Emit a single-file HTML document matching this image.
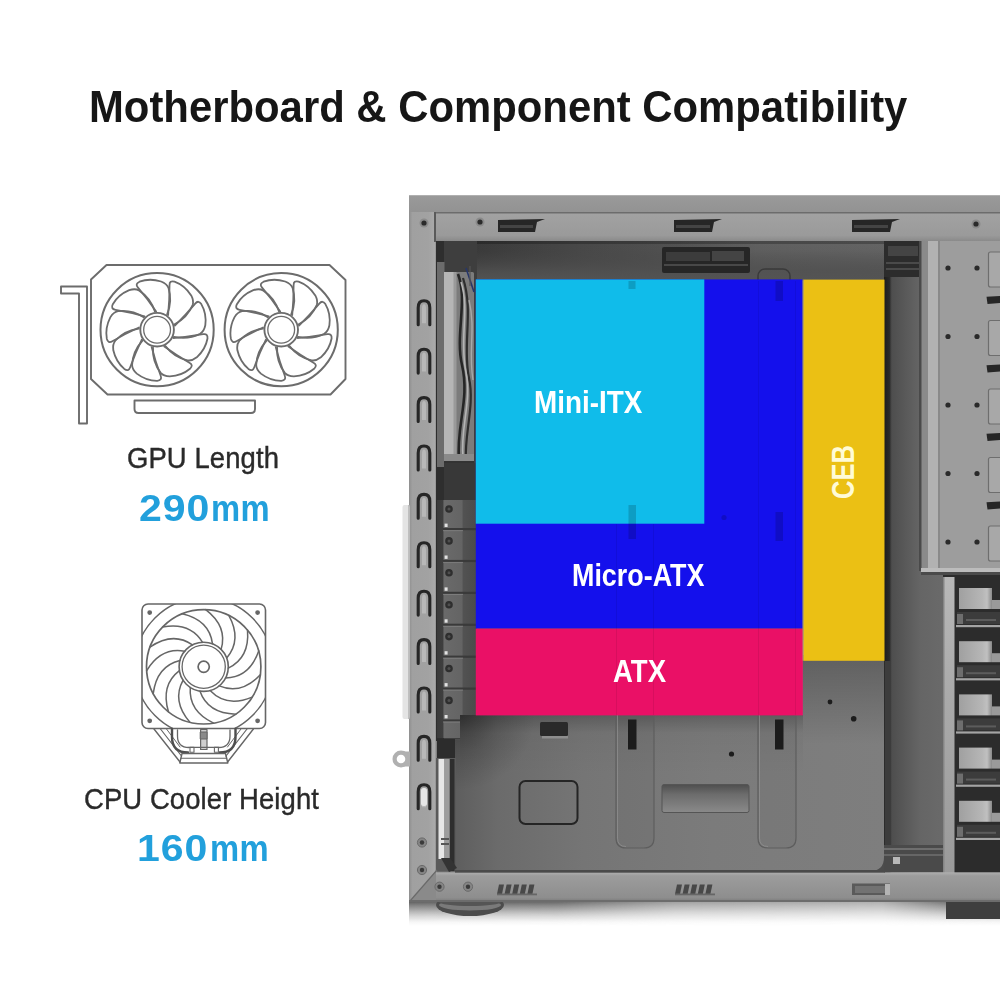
<!DOCTYPE html>
<html lang="en">
<head>
<meta charset="utf-8">
<title>Motherboard &amp; Component Compatibility</title>
<style>
html,body{margin:0;padding:0;background:#fff;}
body{width:1000px;height:1000px;position:relative;overflow:hidden;font-family:"Liberation Sans",sans-serif;}
.abs{position:absolute;}
.t{position:absolute;white-space:nowrap;line-height:1;transform-origin:0 0;}
#title{left:89px;top:83.5px;font-size:45px;font-weight:bold;color:#161616;transform:scaleX(0.93);}
.lbl{font-size:30px;color:#2a2a2a;letter-spacing:0.1px;-webkit-text-stroke:0.4px #2a2a2a;transform:scaleX(0.915);}
.val{font-size:36px;font-weight:bold;color:#22a0dc;}
.val .d{display:inline-block;transform:scaleX(1.14);transform-origin:0 50%;letter-spacing:0.8px;}
.val .u{position:absolute;left:72.6px;top:0;display:inline-block;transform:scaleX(0.91);transform-origin:0 50%;letter-spacing:0.5px;}
.blk{position:absolute;}
.btxt{position:absolute;white-space:nowrap;line-height:1;color:#fff;font-weight:bold;transform-origin:0 0;}
</style>
</head>
<body>

<div id="title" class="t">Motherboard &amp; Component Compatibility</div>

<!-- left column -->
<div id="gpuLbl" class="t lbl" style="left:126.6px;top:443px;">GPU Length</div>
<div id="gpuVal" class="t val" style="left:138.5px;top:490.8px;"><span class="d">290</span><span class="u">mm</span></div>
<div id="cpuLbl" class="t lbl" style="left:83.6px;top:784px;">CPU Cooler Height</div>
<div id="cpuVal" class="t val" style="left:137px;top:830.8px;"><span class="d">160</span><span class="u">mm</span></div>

<svg id="icons" class="abs" style="left:0;top:0" width="400" height="800" viewBox="0 0 400 800">
<g fill="none" stroke="#6c6c6c" stroke-width="1.9" stroke-linejoin="round" stroke-linecap="round">
<path d="M106.5 265 H329.5 L345.5 280 V379 L330.5 394.5 H107.5 L91 379 V279.5 Z"/>
<path d="M61 286.5 H87 V423.5 H79 V293.5 H61 Z"/>
<path d="M134.5 400.5 H255 V409 Q255 413 251 413 H138.5 Q134.5 413 134.5 409 Z"/>
<circle cx="157.1" cy="329.7" r="56.6" stroke-width="2"/>
<circle cx="157.1" cy="329.7" r="16.8"/><circle cx="157.1" cy="329.7" r="13.4" stroke-width="1.3"/>
<path d="M156.1 311.4 Q147.9 299.3 138.0 287.7 Q134.7 283.9 139.5 281.7 Q149.7 277.9 161.1 281.5 Q166.9 283.7 168.5 288.0 Q172.6 301.0 167.1 314.4" stroke-width="1.8"/>
<path d="M168.1 315.1 Q169.6 300.5 169.5 285.2 Q169.4 280.2 174.5 281.6 Q184.7 285.3 191.2 295.4 Q194.1 300.8 192.6 305.0 Q187.5 317.7 174.6 324.3" stroke-width="1.8"/>
<path d="M174.9 325.6 Q185.4 315.4 195.2 303.6 Q198.4 299.7 201.3 304.1 Q206.8 313.5 205.3 325.3 Q204.1 331.3 200.2 333.7 Q188.1 340.0 173.9 336.9" stroke-width="1.8"/>
<path d="M173.4 338.0 Q188.0 336.9 203.1 334.2 Q208.0 333.3 207.5 338.5 Q205.6 349.2 196.8 357.3 Q192.0 361.1 187.6 360.4 Q174.2 357.5 165.4 346.0" stroke-width="1.8"/>
<path d="M164.3 346.5 Q176.1 355.1 189.4 362.7 Q193.8 365.1 190.0 368.8 Q181.7 375.8 169.8 376.4 Q163.6 376.2 160.7 372.8 Q152.3 362.0 153.0 347.5" stroke-width="1.8"/>
<path d="M151.7 347.2 Q155.3 361.4 160.7 375.7 Q162.4 380.4 157.2 380.8 Q146.3 380.9 136.8 373.6 Q132.2 369.6 132.1 365.0 Q132.7 351.4 142.5 340.7" stroke-width="1.8"/>
<path d="M141.8 339.7 Q135.4 352.8 130.2 367.3 Q128.6 372.0 124.3 368.9 Q116.0 362.0 113.3 350.3 Q112.4 344.2 115.3 340.7 Q124.5 330.6 138.8 328.7" stroke-width="1.8"/>
<path d="M138.9 327.5 Q125.6 333.5 112.4 341.2 Q108.1 343.8 106.8 338.7 Q104.9 328.0 110.3 317.4 Q113.5 312.1 118.0 311.2 Q131.5 309.4 143.7 317.2" stroke-width="1.8"/>
<path d="M144.6 316.3 Q130.6 312.3 115.5 309.8 Q110.5 309.0 112.8 304.2 Q118.2 294.8 129.2 290.2 Q135.0 288.2 139.0 290.4 Q150.5 297.7 154.9 311.5" stroke-width="1.8"/>
<circle cx="281.2" cy="329.7" r="56.6" stroke-width="2"/>
<circle cx="281.2" cy="329.7" r="16.8"/><circle cx="281.2" cy="329.7" r="13.4" stroke-width="1.3"/>
<path d="M280.2 311.4 Q272.0 299.3 262.1 287.7 Q258.8 283.9 263.6 281.7 Q273.8 277.9 285.2 281.5 Q291.0 283.7 292.6 288.0 Q296.7 301.0 291.2 314.4" stroke-width="1.8"/>
<path d="M292.2 315.1 Q293.7 300.5 293.6 285.2 Q293.5 280.2 298.6 281.6 Q308.8 285.3 315.3 295.4 Q318.2 300.8 316.7 305.0 Q311.6 317.7 298.7 324.3" stroke-width="1.8"/>
<path d="M299.0 325.6 Q309.5 315.4 319.3 303.6 Q322.5 299.7 325.4 304.1 Q330.9 313.5 329.4 325.3 Q328.2 331.3 324.3 333.7 Q312.2 340.0 298.0 336.9" stroke-width="1.8"/>
<path d="M297.5 338.0 Q312.1 336.9 327.2 334.2 Q332.1 333.3 331.6 338.5 Q329.7 349.2 320.9 357.3 Q316.1 361.1 311.7 360.4 Q298.3 357.5 289.5 346.0" stroke-width="1.8"/>
<path d="M288.4 346.5 Q300.2 355.1 313.5 362.7 Q317.9 365.1 314.1 368.8 Q305.8 375.8 293.9 376.4 Q287.7 376.2 284.8 372.8 Q276.4 362.0 277.1 347.5" stroke-width="1.8"/>
<path d="M275.8 347.2 Q279.4 361.4 284.8 375.7 Q286.5 380.4 281.3 380.8 Q270.4 380.9 260.9 373.6 Q256.3 369.6 256.2 365.0 Q256.8 351.4 266.6 340.7" stroke-width="1.8"/>
<path d="M265.9 339.7 Q259.5 352.8 254.3 367.3 Q252.7 372.0 248.4 368.9 Q240.1 362.0 237.4 350.3 Q236.5 344.2 239.4 340.7 Q248.6 330.6 262.9 328.7" stroke-width="1.8"/>
<path d="M263.0 327.5 Q249.7 333.5 236.5 341.2 Q232.2 343.8 230.9 338.7 Q229.0 328.0 234.4 317.4 Q237.6 312.1 242.1 311.2 Q255.6 309.4 267.8 317.2" stroke-width="1.8"/>
<path d="M268.7 316.3 Q254.7 312.3 239.6 309.8 Q234.6 309.0 236.9 304.2 Q242.3 294.8 253.3 290.2 Q259.1 288.2 263.1 290.4 Q274.6 297.7 279.0 311.5" stroke-width="1.8"/>
</g>
<g fill="none" stroke="#666" stroke-width="1.6" stroke-linejoin="round" stroke-linecap="round">
<rect x="142" y="604" width="123.5" height="124.5" rx="6"/>
<clipPath id="cpuClip"><rect x="142" y="604" width="123.5" height="124.5" rx="6"/></clipPath>
<circle cx="203.7" cy="666.8" r="69" clip-path="url(#cpuClip)" stroke-width="1.5"/>
<circle cx="203.7" cy="666.8" r="57.2" stroke-width="1.7"/>
<circle cx="203.7" cy="666.8" r="24.6" stroke-width="1.6"/><circle cx="203.7" cy="666.8" r="21.6" stroke-width="1.3"/><circle cx="203.7" cy="666.8" r="5.6" stroke-width="1.7"/>
<path d="M212.5 643.8 Q209.4 620.2 182.3 613.8" stroke-width="1.5"/>
<path d="M221.1 649.4 Q227.9 626.5 205.7 609.6" stroke-width="1.5"/>
<path d="M226.7 658.0 Q242.2 639.8 228.8 615.4" stroke-width="1.5"/>
<path d="M228.3 668.1 Q249.8 657.8 247.5 630.0" stroke-width="1.5"/>
<path d="M225.6 678.0 Q249.5 677.4 258.7 651.0" stroke-width="1.5"/>
<path d="M219.2 685.9 Q241.2 695.1 260.3 674.8" stroke-width="1.5"/>
<path d="M210.1 690.6 Q226.5 707.9 252.2 697.1" stroke-width="1.5"/>
<path d="M199.9 691.1 Q207.8 713.6 235.7 714.2" stroke-width="1.5"/>
<path d="M190.3 687.4 Q188.4 711.2 213.6 723.1" stroke-width="1.5"/>
<path d="M183.1 680.2 Q171.6 701.2 189.9 722.3" stroke-width="1.5"/>
<path d="M179.4 670.6 Q160.4 685.2 168.5 711.9" stroke-width="1.5"/>
<path d="M179.9 660.4 Q156.7 666.0 153.2 693.7" stroke-width="1.5"/>
<path d="M184.6 651.3 Q161.1 646.9 146.6 670.8" stroke-width="1.5"/>
<path d="M192.5 644.9 Q172.9 631.3 149.9 647.2" stroke-width="1.5"/>
<path d="M202.4 642.2 Q190.0 621.9 162.6 627.1" stroke-width="1.5"/>
<circle cx="149.7" cy="612.6" r="1.6" fill="#666"/>
<circle cx="257.6" cy="612.6" r="1.6" fill="#666"/>
<circle cx="149.7" cy="720.8" r="1.6" fill="#666"/>
<circle cx="257.6" cy="720.8" r="1.6" fill="#666"/>
<path d="M154 729 L180 762" stroke-width="1.4"/><path d="M253.4 729 L227.6 762" stroke-width="1.4"/>
<path d="M160.5 729 L181.5 756" stroke-width="1.2"/><path d="M247 729 L226 756" stroke-width="1.2"/>
<path d="M166.5 729 L180 747" stroke-width="1"/><path d="M241 729 L227.5 747" stroke-width="1"/>
<path d="M172 729 V737 Q172 752.5 188 752.5" stroke-width="2.4" stroke="#4e4e4e"/><path d="M177.5 730 V736 Q177.5 747.5 189 747.5" stroke-width="1.3"/>
<path d="M235.5 729 V737 Q235.5 752.5 219.5 752.5" stroke-width="2.4" stroke="#4e4e4e"/><path d="M230 730 V736 Q230 747.5 218.5 747.5" stroke-width="1.3"/>
<path d="M182 753.5 H225.5 L227.8 763 H179.8 Z" stroke-width="1.4"/><path d="M181 758.3 H226.6" stroke-width="1.1"/>
<rect x="200.6" y="729.5" width="6.4" height="20" stroke-width="1.2" fill="#cfcfcf"/><rect x="200.6" y="732" width="6.4" height="7" stroke-width="1" fill="#8a8a8a"/>
<path d="M189 747.3 H218.4" stroke-width="1.3"/><rect x="190" y="747.3" width="4" height="5" stroke-width="1.1"/><rect x="214.4" y="747.3" width="4" height="5" stroke-width="1.1"/>
</g>
</svg>

<!-- CASE -->
<svg id="case" class="abs" style="left:0;top:0" width="1000" height="1000" viewBox="0 0 1000 1000">
<defs>
<linearGradient id="gTop" x1="0" y1="0" x2="0" y2="1"><stop offset="0" stop-color="#9a9a9a"/><stop offset="1" stop-color="#929292"/></linearGradient>
<linearGradient id="gRail" x1="0" y1="0" x2="0" y2="1"><stop offset="0" stop-color="#a2a2a2"/><stop offset="0.8" stop-color="#9a9a9a"/><stop offset="1" stop-color="#8a8a8a"/></linearGradient>
<linearGradient id="gPillar" x1="0" y1="0" x2="1" y2="0"><stop offset="0" stop-color="#8e8e8e"/><stop offset="0.12" stop-color="#a0a0a0"/><stop offset="0.7" stop-color="#a2a2a2"/><stop offset="0.92" stop-color="#aaaaaa"/><stop offset="1" stop-color="#808080"/></linearGradient>
<linearGradient id="gInTop" x1="0" y1="0" x2="1" y2="0"><stop offset="0" stop-color="#2e2e2e"/><stop offset="0.09" stop-color="#3a3a3a"/><stop offset="0.3" stop-color="#484848"/><stop offset="0.5" stop-color="#525252"/><stop offset="0.66" stop-color="#606060"/><stop offset="1" stop-color="#666666"/></linearGradient>
<linearGradient id="gInTopV" x1="0" y1="0" x2="0" y2="1"><stop offset="0" stop-color="#464646" stop-opacity="0"/><stop offset="0.25" stop-color="#464646" stop-opacity="0.1"/><stop offset="0.75" stop-color="#505050" stop-opacity="0.85"/><stop offset="1" stop-color="#545454" stop-opacity="1"/></linearGradient>
<linearGradient id="gTray" x1="0" y1="0" x2="1" y2="0"><stop offset="0" stop-color="#5e5e5e"/><stop offset="0.1" stop-color="#6b6b6b"/><stop offset="0.3" stop-color="#757575"/><stop offset="0.6" stop-color="#7b7b7b"/><stop offset="1" stop-color="#7e7e7e"/></linearGradient>
<linearGradient id="gTrayV" x1="0" y1="0" x2="0" y2="1"><stop offset="0" stop-color="#000" stop-opacity="0.22"/><stop offset="0.3" stop-color="#000" stop-opacity="0.04"/><stop offset="1" stop-color="#000" stop-opacity="0"/></linearGradient>
<linearGradient id="gRStrip" x1="0" y1="0" x2="1" y2="0"><stop offset="0" stop-color="#1c1c1c"/><stop offset="0.09" stop-color="#2a2a2a"/><stop offset="0.13" stop-color="#4e4e4e"/><stop offset="0.6" stop-color="#656565"/><stop offset="1" stop-color="#6a6a6a"/></linearGradient>
<linearGradient id="gBot" x1="0" y1="0" x2="0" y2="1"><stop offset="0" stop-color="#b0b0b0"/><stop offset="0.12" stop-color="#9c9c9c"/><stop offset="0.85" stop-color="#8e8e8e"/><stop offset="1" stop-color="#7a7a7a"/></linearGradient>
<linearGradient id="gShadow" x1="0" y1="0" x2="0" y2="1"><stop offset="0" stop-color="#3c3c3c" stop-opacity="0.9"/><stop offset="0.35" stop-color="#666" stop-opacity="0.6"/><stop offset="0.7" stop-color="#999" stop-opacity="0.25"/><stop offset="1" stop-color="#fff" stop-opacity="0"/></linearGradient>
<linearGradient id="gShH" x1="0" y1="0" x2="1" y2="0"><stop offset="0" stop-color="#fff" stop-opacity="1"/><stop offset="0.25" stop-color="#fff" stop-opacity="0.95"/><stop offset="0.45" stop-color="#fff" stop-opacity="0.6"/><stop offset="0.8" stop-color="#fff" stop-opacity="0.5"/><stop offset="0.92" stop-color="#fff" stop-opacity="0.9"/><stop offset="1" stop-color="#fff" stop-opacity="1"/></linearGradient>
<mask id="mSh" maskUnits="userSpaceOnUse" x="400" y="895" width="600" height="40"><rect x="409" y="895" width="591" height="40" fill="url(#gShH)"/></mask>
<linearGradient id="gCut" x1="0" y1="0" x2="0" y2="1"><stop offset="0" stop-color="#4e4e4e"/><stop offset="0.35" stop-color="#6c6c6c"/><stop offset="1" stop-color="#8a8a8a"/></linearGradient>
<linearGradient id="gFanL" x1="0" y1="0" x2="1" y2="0"><stop offset="0" stop-color="#9a9a9a"/><stop offset="0.4" stop-color="#b4b4b4"/><stop offset="0.55" stop-color="#8a8a8a"/><stop offset="1" stop-color="#5a5a5a"/></linearGradient>
<linearGradient id="gTrayLight" x1="0" y1="0" x2="1" y2="0"><stop offset="0" stop-color="#a0a0a0"/><stop offset="0.7" stop-color="#b6b6b6"/><stop offset="0.85" stop-color="#c0c0c0"/><stop offset="1" stop-color="#8a8a8a"/></linearGradient>
<linearGradient id="gPci" x1="0" y1="0" x2="1" y2="0"><stop offset="0" stop-color="#3a3a3a"/><stop offset="0.14" stop-color="#3e3e3e"/><stop offset="0.18" stop-color="#6a6a6a"/><stop offset="0.62" stop-color="#646464"/><stop offset="0.66" stop-color="#525252"/><stop offset="1" stop-color="#4a4a4a"/></linearGradient>
</defs>
<rect x="409" y="900" width="591" height="27" fill="url(#gShadow)" mask="url(#mSh)"/>
<ellipse cx="470" cy="905" rx="34" ry="11" fill="#4c4c4c"/>
<ellipse cx="470" cy="905" rx="31" ry="5.5" fill="#7a7a7a"/>
<ellipse cx="470" cy="902" rx="31" ry="4" fill="#555"/>
<rect x="946" y="901" width="54" height="18" fill="#3e3e3e"/>
<rect x="409" y="195" width="591" height="707" fill="#6a6a6a"/>
<rect x="409" y="195" width="591" height="18" fill="url(#gTop)"/>
<rect x="409" y="195" width="591" height="1" fill="#b0b0b0"/>
<rect x="409" y="212" width="27.8" height="690" fill="url(#gPillar)"/>
<rect x="436" y="213" width="564" height="28" fill="url(#gRail)"/>
<rect x="434" y="212" width="566" height="1.5" fill="#6c6c6c"/>
<rect x="434" y="212" width="2" height="30" fill="#5a5a5a"/>
<path d="M498 220 L545 219 L537 222 L535 232 L498 232 Z" fill="#262626"/>
<rect x="500" y="225" width="33" height="3" fill="#444"/>
<path d="M674 220 L722 219 L714 222 L712 232 L674 232 Z" fill="#262626"/>
<rect x="676" y="225" width="34" height="3" fill="#444"/>
<path d="M852 220 L900 219 L892 222 L890 232 L852 232 Z" fill="#262626"/>
<rect x="854" y="225" width="34" height="3" fill="#444"/>
<circle cx="424" cy="223" r="4.5" fill="#8a8a8a"/><circle cx="424" cy="223" r="2.6" fill="#2a2a2a"/>
<circle cx="480" cy="222" r="4.5" fill="#8a8a8a"/><circle cx="480" cy="222" r="2.6" fill="#2a2a2a"/>
<circle cx="976" cy="224" r="4.5" fill="#8a8a8a"/><circle cx="976" cy="224" r="2.6" fill="#2a2a2a"/>
<rect x="436" y="241" width="486" height="40" fill="url(#gInTop)"/>
<rect x="436" y="241" width="486" height="40" fill="url(#gInTopV)"/>
<rect x="436" y="241" width="486" height="3" fill="#000" opacity="0.25"/>
<rect x="662" y="247" width="88" height="26" rx="2" fill="#262626"/>
<rect x="666" y="252" width="44" height="9" fill="#3c3c3c"/><rect x="712" y="251" width="32" height="10" fill="#444"/><rect x="664" y="264" width="84" height="2" fill="#484848"/>
<rect x="758" y="269" width="32" height="22" rx="7" fill="none" stroke="#3a3a3a" stroke-width="1.5"/>
<rect x="436" y="241" width="41" height="500" fill="#3e3e3e"/>
<rect x="436" y="241" width="8" height="500" fill="#2e2e2e"/>
<rect x="437" y="262" width="7.5" height="205" fill="#6c6c6c"/>
<rect x="444" y="272" width="30" height="190" rx="1.5" fill="#7c7c7c"/>
<rect x="444" y="272" width="12" height="190" fill="#b6b6b6"/><rect x="453.5" y="272" width="3" height="190" fill="#9a9a9a"/>
<path d="M458 274 C468 300 455 335 462 365 C470 400 456 425 459 460" fill="none" stroke="#262626" stroke-width="2.6"/>
<path d="M463 278 C474 312 462 345 469 378 C475 405 464 435 466 460" fill="none" stroke="#2e2e2e" stroke-width="2.2"/>
<path d="M461 282 C470 310 459 340 466 372 C472 402 460 428 463 458" fill="none" stroke="#b4b4b4" stroke-width="1.6"/>
<path d="M469 300 C476 330 468 350 473 380" fill="none" stroke="#a8a8a8" stroke-width="1.4"/>
<path d="M466 268 L474 292" stroke="#26366a" stroke-width="1.6"/><path d="M470 266 L470 286" stroke="#555" stroke-width="1.2"/>
<rect x="444" y="454" width="30" height="8" fill="#8a8a8a"/><rect x="444" y="461" width="30" height="2" fill="#333"/>
<rect x="444" y="463" width="32" height="38" fill="#383838"/>
<rect x="437" y="500" width="40" height="238" fill="url(#gPci)"/>
<rect x="443" y="528.0" width="34" height="2.2" fill="#3a3a3a"/>
<rect x="443" y="530.0" width="20" height="1.2" fill="#8a8a8a" opacity="0.6"/>
<circle cx="449" cy="509.0" r="3.8" fill="#2e2e2e"/><circle cx="449" cy="509.0" r="1.5" fill="#4e4e4e"/>
<rect x="444.6" y="523.6" width="3" height="3.4" fill="#e2e2e2"/>
<rect x="443" y="559.9" width="34" height="2.2" fill="#3a3a3a"/>
<rect x="443" y="561.9" width="20" height="1.2" fill="#8a8a8a" opacity="0.6"/>
<circle cx="449" cy="540.9" r="3.8" fill="#2e2e2e"/><circle cx="449" cy="540.9" r="1.5" fill="#4e4e4e"/>
<rect x="444.6" y="555.5" width="3" height="3.4" fill="#e2e2e2"/>
<rect x="443" y="591.8" width="34" height="2.2" fill="#3a3a3a"/>
<rect x="443" y="593.8" width="20" height="1.2" fill="#8a8a8a" opacity="0.6"/>
<circle cx="449" cy="572.8" r="3.8" fill="#2e2e2e"/><circle cx="449" cy="572.8" r="1.5" fill="#4e4e4e"/>
<rect x="444.6" y="587.4" width="3" height="3.4" fill="#e2e2e2"/>
<rect x="443" y="623.7" width="34" height="2.2" fill="#3a3a3a"/>
<rect x="443" y="625.7" width="20" height="1.2" fill="#8a8a8a" opacity="0.6"/>
<circle cx="449" cy="604.7" r="3.8" fill="#2e2e2e"/><circle cx="449" cy="604.7" r="1.5" fill="#4e4e4e"/>
<rect x="444.6" y="619.3" width="3" height="3.4" fill="#e2e2e2"/>
<rect x="443" y="655.6" width="34" height="2.2" fill="#3a3a3a"/>
<rect x="443" y="657.6" width="20" height="1.2" fill="#8a8a8a" opacity="0.6"/>
<circle cx="449" cy="636.6" r="3.8" fill="#2e2e2e"/><circle cx="449" cy="636.6" r="1.5" fill="#4e4e4e"/>
<rect x="444.6" y="651.2" width="3" height="3.4" fill="#e2e2e2"/>
<rect x="443" y="687.5" width="34" height="2.2" fill="#3a3a3a"/>
<rect x="443" y="689.5" width="20" height="1.2" fill="#8a8a8a" opacity="0.6"/>
<circle cx="449" cy="668.5" r="3.8" fill="#2e2e2e"/><circle cx="449" cy="668.5" r="1.5" fill="#4e4e4e"/>
<rect x="444.6" y="683.1" width="3" height="3.4" fill="#e2e2e2"/>
<rect x="443" y="719.4" width="34" height="2.2" fill="#3a3a3a"/>
<rect x="443" y="721.4" width="20" height="1.2" fill="#8a8a8a" opacity="0.6"/>
<circle cx="449" cy="700.4" r="3.8" fill="#2e2e2e"/><circle cx="449" cy="700.4" r="1.5" fill="#4e4e4e"/>
<rect x="444.6" y="715.0" width="3" height="3.4" fill="#e2e2e2"/>
<rect x="437" y="739" width="19" height="20" fill="#2c2c2c"/>
<rect x="455" y="739" width="429" height="132" fill="#4c4c4c"/>
<path d="M460 715 H800 V640 H884 V857 Q884 871 870 871 H455 V740 H460 Z" fill="url(#gTray)"/>
<rect x="460" y="715" width="343" height="60" fill="url(#gTrayV)"/>
<radialGradient id="gTrayL" gradientUnits="userSpaceOnUse" cx="460" cy="715" r="75"><stop offset="0" stop-color="#000" stop-opacity="0.38"/><stop offset="0.5" stop-color="#000" stop-opacity="0.15"/><stop offset="1" stop-color="#000" stop-opacity="0"/></radialGradient>
<path d="M460 715 H540 V800 H455 V740 H460 Z" fill="url(#gTrayL)"/>
<linearGradient id="gBY" x1="0" y1="0" x2="0" y2="1"><stop offset="0" stop-color="#000" stop-opacity="0.24"/><stop offset="1" stop-color="#000" stop-opacity="0"/></linearGradient>
<rect x="803" y="655" width="81" height="90" fill="url(#gBY)"/>
<rect x="436" y="758" width="20" height="113" fill="#5a5a5a"/>
<rect x="438.5" y="759" width="6" height="100" fill="#e6e6e6"/><rect x="444.5" y="759" width="5" height="100" fill="#9c9c9c"/>
<rect x="450" y="759" width="4.5" height="112" fill="#2e2e2e"/>
<rect x="441" y="838" width="8" height="2" fill="#555"/><rect x="441" y="843" width="8" height="2" fill="#555"/>
<path d="M441 858 L450 858 L457 868 L449 872 Z" fill="#333"/>
<rect x="540" y="722" width="28" height="14" rx="1.5" fill="#2a2a2a"/><rect x="542" y="736" width="26" height="2.5" fill="#8e8e8e"/>
<rect x="519.5" y="781" width="58" height="43" rx="6" fill="none" stroke="#252525" stroke-width="2"/>
<path d="M616 715 V838 Q616 848 626 848 H644 Q654 848 654 838 V715" fill="#000" fill-opacity="0.03" stroke="#5e5e5e" stroke-width="1.2"/>
<path d="M617.5 715 V838 Q617.5 846.5 626 846.5" fill="none" stroke="#9a9a9a" stroke-width="0.8" opacity="0.7"/>
<path d="M758 715 V838 Q758 848 768 848 H786 Q796 848 796 838 V715" fill="#000" fill-opacity="0.03" stroke="#5e5e5e" stroke-width="1.2"/>
<path d="M759.5 715 V838 Q759.5 846.5 768 846.5" fill="none" stroke="#9a9a9a" stroke-width="0.8" opacity="0.7"/>
<rect x="628" y="719.5" width="8.5" height="30" fill="#1c1c1c"/>
<rect x="775" y="719.5" width="8.5" height="30" fill="#1c1c1c"/>
<rect x="662" y="784.5" width="87" height="28" rx="2" fill="url(#gCut)"/>
<rect x="662" y="784.5" width="87" height="28" rx="2" fill="none" stroke="#555" stroke-width="1"/>
<circle cx="731.5" cy="754" r="2.6" fill="#1c1c1c"/>
<circle cx="830" cy="702" r="2.4" fill="#1c1c1c"/>
<circle cx="853.7" cy="718.7" r="2.8" fill="#1c1c1c"/>
<rect x="884" y="241" width="60" height="632" fill="url(#gRStrip)"/>
<rect x="884" y="241" width="38" height="36" fill="#2c2c2c"/>
<rect x="888" y="246" width="30" height="10" fill="#444"/><rect x="886" y="262" width="34" height="2" fill="#4a4a4a"/><rect x="886" y="268" width="34" height="2" fill="#4a4a4a"/>
<rect x="884.5" y="661" width="6.5" height="184" fill="#3c3c3c"/>
<rect x="884" y="845" width="60" height="27" fill="#4a4a4a"/>
<rect x="884" y="848" width="60" height="2" fill="#6e6e6e"/><rect x="884" y="854" width="60" height="2" fill="#666"/>
<rect x="893" y="857" width="7" height="7" fill="#b8b8b8"/>
<rect x="919" y="241" width="3" height="330" fill="#4a4a4a"/>
<rect x="921.5" y="241" width="7" height="332" fill="#8a8a8a"/>
<rect x="928" y="241" width="10" height="332" fill="#b2b2b2"/>
<rect x="938" y="241" width="62" height="330" fill="#9d9d9d"/>
<rect x="938" y="241" width="2" height="330" fill="#8a8a8a"/>
<rect x="921" y="568" width="79" height="4" fill="#bcbcbc"/><rect x="921" y="572" width="79" height="3" fill="#4a4a4a"/>
<circle cx="948" cy="268.0" r="2.6" fill="#2a2a2a"/><circle cx="977" cy="268.0" r="2.6" fill="#2a2a2a"/>
<rect x="988.5" y="252.0" width="14" height="35" rx="2" fill="#a8a8a8" stroke="#6e6e6e" stroke-width="1.2"/>
<path d="M986.5 296.8 L1000 296.0 V303.0 L987.5 304.0 Z" fill="#262626"/>
<circle cx="948" cy="336.5" r="2.6" fill="#2a2a2a"/><circle cx="977" cy="336.5" r="2.6" fill="#2a2a2a"/>
<rect x="988.5" y="320.5" width="14" height="35" rx="2" fill="#a8a8a8" stroke="#6e6e6e" stroke-width="1.2"/>
<path d="M986.5 365.3 L1000 364.5 V371.5 L987.5 372.5 Z" fill="#262626"/>
<circle cx="948" cy="405.0" r="2.6" fill="#2a2a2a"/><circle cx="977" cy="405.0" r="2.6" fill="#2a2a2a"/>
<rect x="988.5" y="389.0" width="14" height="35" rx="2" fill="#a8a8a8" stroke="#6e6e6e" stroke-width="1.2"/>
<path d="M986.5 433.8 L1000 433.0 V440.0 L987.5 441.0 Z" fill="#262626"/>
<circle cx="948" cy="473.5" r="2.6" fill="#2a2a2a"/><circle cx="977" cy="473.5" r="2.6" fill="#2a2a2a"/>
<rect x="988.5" y="457.5" width="14" height="35" rx="2" fill="#a8a8a8" stroke="#6e6e6e" stroke-width="1.2"/>
<path d="M986.5 502.3 L1000 501.5 V508.5 L987.5 509.5 Z" fill="#262626"/>
<circle cx="948" cy="542.0" r="2.6" fill="#2a2a2a"/><circle cx="977" cy="542.0" r="2.6" fill="#2a2a2a"/>
<rect x="988.5" y="526.0" width="14" height="35" rx="2" fill="#a8a8a8" stroke="#6e6e6e" stroke-width="1.2"/>
<rect x="943" y="575" width="57" height="298" fill="#2c2c2c"/>
<linearGradient id="gBar" x1="0" y1="0" x2="0" y2="1"><stop offset="0" stop-color="#b8b8b8"/><stop offset="0.4" stop-color="#aaaaaa"/><stop offset="1" stop-color="#9a9a9a"/></linearGradient>
<rect x="943" y="577" width="11.5" height="296" fill="url(#gBar)"/><rect x="943" y="577" width="1.5" height="296" fill="#858585"/>
<rect x="959" y="588.0" width="33" height="21" fill="url(#gTrayLight)"/>
<rect x="992" y="600.0" width="8" height="9" fill="#9a9a9a"/>
<rect x="957" y="612.0" width="43" height="12" fill="#3c3c3c"/>
<rect x="957" y="614.0" width="6" height="10" fill="#6e6e6e"/>
<rect x="966" y="619.0" width="30" height="2" fill="#5c5c5c"/>
<rect x="956" y="625.0" width="44" height="2.2" fill="#a4a4a4"/>
<rect x="959" y="641.2" width="33" height="21" fill="url(#gTrayLight)"/>
<rect x="992" y="653.2" width="8" height="9" fill="#9a9a9a"/>
<rect x="957" y="665.2" width="43" height="12" fill="#3c3c3c"/>
<rect x="957" y="667.2" width="6" height="10" fill="#6e6e6e"/>
<rect x="966" y="672.2" width="30" height="2" fill="#5c5c5c"/>
<rect x="956" y="678.2" width="44" height="2.2" fill="#a4a4a4"/>
<rect x="959" y="694.4" width="33" height="21" fill="url(#gTrayLight)"/>
<rect x="992" y="706.4" width="8" height="9" fill="#9a9a9a"/>
<rect x="957" y="718.4" width="43" height="12" fill="#3c3c3c"/>
<rect x="957" y="720.4" width="6" height="10" fill="#6e6e6e"/>
<rect x="966" y="725.4" width="30" height="2" fill="#5c5c5c"/>
<rect x="956" y="731.4" width="44" height="2.2" fill="#a4a4a4"/>
<rect x="959" y="747.6" width="33" height="21" fill="url(#gTrayLight)"/>
<rect x="992" y="759.6" width="8" height="9" fill="#9a9a9a"/>
<rect x="957" y="771.6" width="43" height="12" fill="#3c3c3c"/>
<rect x="957" y="773.6" width="6" height="10" fill="#6e6e6e"/>
<rect x="966" y="778.6" width="30" height="2" fill="#5c5c5c"/>
<rect x="956" y="784.6" width="44" height="2.2" fill="#a4a4a4"/>
<rect x="959" y="800.8" width="33" height="21" fill="url(#gTrayLight)"/>
<rect x="992" y="812.8" width="8" height="9" fill="#9a9a9a"/>
<rect x="957" y="824.8" width="43" height="12" fill="#3c3c3c"/>
<rect x="957" y="826.8" width="6" height="10" fill="#6e6e6e"/>
<rect x="966" y="831.8" width="30" height="2" fill="#5c5c5c"/>
<rect x="956" y="837.8" width="44" height="2.2" fill="#a4a4a4"/>
<rect x="436" y="872.3" width="564" height="29.7" fill="url(#gBot)"/>
<rect x="455" y="870" width="430" height="2.6" fill="#4a4a4a"/>
<path d="M409 902 L436 871 L436 902 Z" fill="#8a8a8a"/><path d="M410 901 L437 870" stroke="#6a6a6a" stroke-width="1.2"/>
<rect x="409" y="900" width="591" height="2" fill="#6c6c6c"/>
<circle cx="422" cy="842.5" r="4.6" fill="#858585" stroke="#6a6a6a" stroke-width="1"/><circle cx="422" cy="842.5" r="2.2" fill="#3a3a3a"/>
<circle cx="422" cy="870" r="4.6" fill="#858585" stroke="#6a6a6a" stroke-width="1"/><circle cx="422" cy="870" r="2.2" fill="#3a3a3a"/>
<circle cx="439.5" cy="886.7" r="4.6" fill="#858585" stroke="#6a6a6a" stroke-width="1"/><circle cx="439.5" cy="886.7" r="2.2" fill="#3a3a3a"/>
<circle cx="468" cy="886.7" r="4.6" fill="#858585" stroke="#6a6a6a" stroke-width="1"/><circle cx="468" cy="886.7" r="2.2" fill="#3a3a3a"/>
<path d="M499.0 884.5 h5 l-2 9.5 h-5 Z" fill="#484848"/>
<path d="M506.6 884.5 h5 l-2 9.5 h-5 Z" fill="#484848"/>
<path d="M514.2 884.5 h5 l-2 9.5 h-5 Z" fill="#484848"/>
<path d="M521.8 884.5 h5 l-2 9.5 h-5 Z" fill="#484848"/>
<path d="M529.4 884.5 h5 l-2 9.5 h-5 Z" fill="#484848"/>
<rect x="497" y="893.5" width="40" height="1.8" fill="#666"/>
<path d="M677.0 884.5 h5 l-2 9.5 h-5 Z" fill="#484848"/>
<path d="M684.6 884.5 h5 l-2 9.5 h-5 Z" fill="#484848"/>
<path d="M692.2 884.5 h5 l-2 9.5 h-5 Z" fill="#484848"/>
<path d="M699.8 884.5 h5 l-2 9.5 h-5 Z" fill="#484848"/>
<path d="M707.4 884.5 h5 l-2 9.5 h-5 Z" fill="#484848"/>
<rect x="675" y="893.5" width="40" height="1.8" fill="#666"/>
<rect x="852" y="883.5" width="38" height="11.5" fill="#5a5a5a"/><rect x="855" y="886" width="30" height="7" fill="#727272"/><rect x="885" y="884" width="5" height="11" fill="#b4b4b4"/>
<path d="M422 323.2 V308.2 Q422 304.2 424 304.2 Q426 304.2 426 308.2 V323.2 Z" fill="#b8b8b8"/>
<path d="M418.2 324.7 V307.7 Q418.2 300.8 424 300.8 Q429.8 300.8 429.8 307.7 V324.7" fill="none" stroke="#262626" stroke-width="3.1" stroke-linecap="round"/>
<path d="M422 371.6 V356.6 Q422 352.6 424 352.6 Q426 352.6 426 356.6 V371.6 Z" fill="#b8b8b8"/>
<path d="M418.2 373.1 V356.1 Q418.2 349.2 424 349.2 Q429.8 349.2 429.8 356.1 V373.1" fill="none" stroke="#262626" stroke-width="3.1" stroke-linecap="round"/>
<path d="M422 420.0 V405.0 Q422 401.0 424 401.0 Q426 401.0 426 405.0 V420.0 Z" fill="#b8b8b8"/>
<path d="M418.2 421.5 V404.5 Q418.2 397.6 424 397.6 Q429.8 397.6 429.8 404.5 V421.5" fill="none" stroke="#262626" stroke-width="3.1" stroke-linecap="round"/>
<path d="M422 468.4 V453.4 Q422 449.4 424 449.4 Q426 449.4 426 453.4 V468.4 Z" fill="#b8b8b8"/>
<path d="M418.2 469.9 V452.9 Q418.2 446.0 424 446.0 Q429.8 446.0 429.8 452.9 V469.9" fill="none" stroke="#262626" stroke-width="3.1" stroke-linecap="round"/>
<path d="M422 516.8 V501.8 Q422 497.8 424 497.8 Q426 497.8 426 501.8 V516.8 Z" fill="#b8b8b8"/>
<path d="M418.2 518.3 V501.3 Q418.2 494.4 424 494.4 Q429.8 494.4 429.8 501.3 V518.3" fill="none" stroke="#262626" stroke-width="3.1" stroke-linecap="round"/>
<path d="M422 565.2 V550.2 Q422 546.2 424 546.2 Q426 546.2 426 550.2 V565.2 Z" fill="#b8b8b8"/>
<path d="M418.2 566.7 V549.7 Q418.2 542.8 424 542.8 Q429.8 542.8 429.8 549.7 V566.7" fill="none" stroke="#262626" stroke-width="3.1" stroke-linecap="round"/>
<path d="M422 613.6 V598.6 Q422 594.6 424 594.6 Q426 594.6 426 598.6 V613.6 Z" fill="#b8b8b8"/>
<path d="M418.2 615.1 V598.1 Q418.2 591.2 424 591.2 Q429.8 591.2 429.8 598.1 V615.1" fill="none" stroke="#262626" stroke-width="3.1" stroke-linecap="round"/>
<path d="M422 662.0 V647.0 Q422 643.0 424 643.0 Q426 643.0 426 647.0 V662.0 Z" fill="#b8b8b8"/>
<path d="M418.2 663.5 V646.5 Q418.2 639.6 424 639.6 Q429.8 639.6 429.8 646.5 V663.5" fill="none" stroke="#262626" stroke-width="3.1" stroke-linecap="round"/>
<path d="M422 710.4 V695.4 Q422 691.4 424 691.4 Q426 691.4 426 695.4 V710.4 Z" fill="#b8b8b8"/>
<path d="M418.2 711.9 V694.9 Q418.2 688.0 424 688.0 Q429.8 688.0 429.8 694.9 V711.9" fill="none" stroke="#262626" stroke-width="3.1" stroke-linecap="round"/>
<path d="M422 758.8 V743.8 Q422 739.8 424 739.8 Q426 739.8 426 743.8 V758.8 Z" fill="#b8b8b8"/>
<path d="M418.2 760.3 V743.3 Q418.2 736.4 424 736.4 Q429.8 736.4 429.8 743.3 V760.3" fill="none" stroke="#262626" stroke-width="3.1" stroke-linecap="round"/>
<path d="M422 807.2 V792.2 Q422 788.2 424 788.2 Q426 788.2 426 792.2 V807.2 Z" fill="#b8b8b8"/>
<path d="M418.2 808.7 V791.7 Q418.2 784.8 424 784.8 Q429.8 784.8 429.8 791.7 V808.7" fill="none" stroke="#262626" stroke-width="3.1" stroke-linecap="round"/>
<rect x="421" y="788" width="6" height="18" rx="2.5" fill="#e6e6e6"/>
<rect x="402.5" y="505" width="7" height="214" rx="2" fill="#e4e4e4"/><rect x="408" y="505" width="1.5" height="214" fill="#c0c0c0"/>
<rect x="403" y="751.5" width="7" height="15" fill="#b0b0b0"/><circle cx="401" cy="759" r="6.4" fill="#fff" stroke="#b0b0b0" stroke-width="4.2"/>
</svg>

<!-- form-factor blocks -->

<svg id="seethru" class="abs" style="left:0;top:0" width="1000" height="1000" viewBox="0 0 1000 1000">
<rect x="475.8" y="279.4" width="326.8" height="349.2" fill="#1410ec"/>
<rect x="475.8" y="279.4" width="228.5" height="244.3" fill="#10bcea"/>
<rect x="475.8" y="628.6" width="327" height="86.8" fill="#ea1066"/>
<rect x="803.5" y="279.6" width="81" height="381.2" fill="#ebc014"/>
<rect x="802.6" y="279.6" width="1" height="381" fill="#c8b070" opacity="0.8"/>
<g fill="#000" opacity="0.16">
<rect x="775.5" y="281" width="7.5" height="20"/>
<rect x="775.5" y="512" width="7.5" height="29"/>
<rect x="628.5" y="505" width="7.5" height="34"/>
<rect x="628.5" y="281" width="7" height="8"/>
<circle cx="724" cy="517.5" r="2.6"/>
</g>
<g fill="none" stroke="#000" stroke-width="1" opacity="0.07">
<path d="M616.5 524 V715"/><path d="M653.5 524 V715"/><path d="M758.5 281 V715"/><path d="M795.5 281 V715"/>
</g>
</svg>
<div id="tMini" class="btxt" style="left:534px;top:386px;font-size:32px;transform:scaleX(0.87);">Mini-ITX</div>
<div id="tMicro" class="btxt" style="left:572px;top:559px;font-size:32px;transform:scaleX(0.84);">Micro-ATX</div>
<div id="tAtx" class="btxt" style="left:613px;top:655px;font-size:32px;transform:scaleX(0.86);">ATX</div>
<div id="tCeb" class="btxt" style="left:843px;top:472.3px;font-size:32px;color:#fffbd6;transform-origin:50% 50%;transform:translate(-50%,-50%) rotate(-90deg) scaleX(0.8);">CEB</div>

</body>
</html>
